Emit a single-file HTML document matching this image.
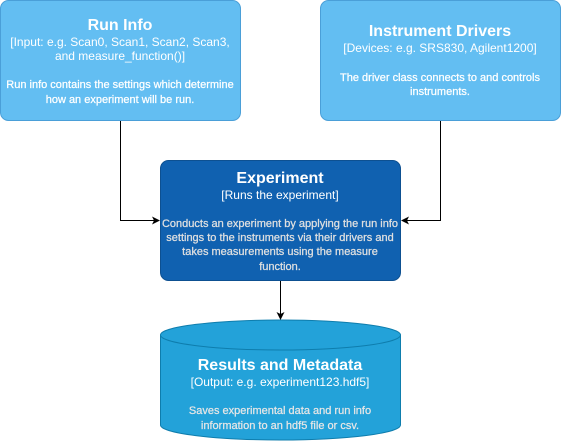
<!DOCTYPE html>
<html><head><style>
html,body{margin:0;padding:0;background:#fff;width:561px;height:442px;overflow:hidden}
svg{display:block}
text{font-family:"Liberation Sans",Arial,sans-serif;text-anchor:middle}
.t{font-size:16px;font-weight:bold;fill:#fff}
.s{font-size:12px;fill:#fff}
.b{font-size:11px;fill:#fff;stroke:#fff;stroke-width:0.25}
</style></head><body>
<svg width="561" height="442" viewBox="0 0 561 442">
<defs><marker id="a" markerWidth="8" markerHeight="8" refX="7" refY="4" orient="auto" markerUnits="userSpaceOnUse"><path d="M0,0 L8,4 L0,8 L2,4 Z" fill="#000"/></marker></defs>
<rect x="0.5" y="0.5" width="240" height="120" rx="8" fill="#63bef2" stroke="#4a9fd8"/>
<text class="t" x="120" y="30">Run Info</text>
<text class="s" x="120" y="46">[Input: e.g. Scan0, Scan1, Scan2, Scan3,</text>
<text class="s" x="120" y="60">and measure_function()]</text>
<text class="b" x="120" y="88">Run info contains the settings which determine</text>
<text class="b" x="120" y="103">how an experiment will be run.</text>

<rect x="320.5" y="0.5" width="240" height="120" rx="8" fill="#63bef2" stroke="#4a9fd8"/>
<text class="t" x="440" y="36">Instrument Drivers</text>
<text class="s" x="440" y="52">[Devices: e.g. SRS830, Agilent1200]</text>
<text class="b" x="440" y="81">The driver class connects to and controls</text>
<text class="b" x="440" y="95">instruments.</text>

<rect x="160.5" y="160.5" width="240" height="120" rx="8" fill="#1061b0" stroke="#0d5091"/>
<text class="t" x="280" y="183">Experiment</text>
<text class="s" x="280" y="199">[Runs the experiment]</text>
<text class="b" x="280" y="227" style="fill:#e0e0e0;stroke:#e0e0e0">Conducts an experiment by applying the run info</text>
<text class="b" x="280" y="241" style="fill:#e0e0e0;stroke:#e0e0e0">settings to the instruments via their drivers and</text>
<text class="b" x="280" y="255" style="fill:#e0e0e0;stroke:#e0e0e0">takes measurements using the measure</text>
<text class="b" x="280" y="270" style="fill:#e0e0e0;stroke:#e0e0e0">function.</text>

<path d="M160.5,335 L160.5,425 A120,15 0 0 0 400.5,425 L400.5,335" fill="#23a2d9" stroke="#0e7dad"/>
<ellipse cx="280.5" cy="335" rx="120" ry="15" fill="#23a2d9" stroke="#0e7dad"/>
<text class="t" x="280" y="370">Results and Metadata</text>
<text class="s" x="280" y="386">[Output: e.g. experiment123.hdf5]</text>
<text class="b" x="280" y="414" style="fill:#e6e6e6;stroke:#e6e6e6">Saves experimental data and run info</text>
<text class="b" x="280" y="429" style="fill:#e6e6e6;stroke:#e6e6e6">information to an hdf5 file or csv.</text>

<path d="M120.5,121 V220.5 H159" fill="none" stroke="#000" marker-end="url(#a)"/>
<path d="M440.5,121 V220.5 H402" fill="none" stroke="#000" marker-end="url(#a)"/>
<path d="M280.5,281 V319" fill="none" stroke="#000" marker-end="url(#a)"/>
</svg>
</body></html>
